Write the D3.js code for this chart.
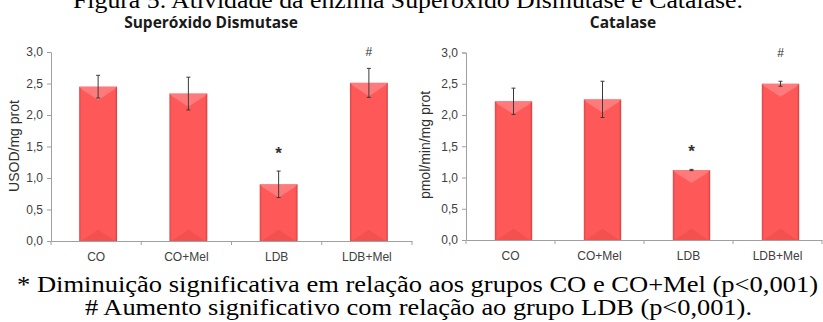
<!DOCTYPE html>
<html>
<head>
<meta charset="utf-8">
<script src="https://cdn.jsdelivr.net/npm/d3@7"></script>
<style>
  html, body { margin: 0; padding: 0; background: #fff; }
  svg { display: block; }
</style>
</head>
<body>
<div id="chart"></div>
<script>
(function () {
  // -- Data ----------------------------------------------------------
  var GROUPS = ["CO", "CO+Mel", "LDB", "LDB+Mel"];
  var SOD_MEAN = [2.45, 2.34, 0.90, 2.51];
  var SOD_ERR  = [0.18, 0.26, 0.21, 0.23];
  var CAT_MEAN = [2.22, 2.25, 1.12, 2.50];
  var CAT_ERR  = [0.21, 0.29, 0.01, 0.04];
  var SOD_MARKS = ["", "", "*", "#"];
  var CAT_MARKS = ["", "", "*", "#"];
  var Y_TICKS = [0, 0.5, 1, 1.5, 2, 2.5, 3];

  var W = 823, H = 322;
  var fmt = function (v) { return v.toFixed(1).replace(".", ","); };

  var svg = d3.select("#chart").append("svg")
    .attr("width", W).attr("height", H);

  var defs = svg.append("defs");
  var grad = defs.append("linearGradient").attr("id", "barGrad")
    .attr("x1", "0").attr("x2", "1").attr("y1", "0").attr("y2", "0");
  grad.append("stop").attr("offset", "0").attr("stop-color", "#d84848");
  grad.append("stop").attr("offset", "0.06").attr("stop-color", "#ff5858");
  grad.append("stop").attr("offset", "0.94").attr("stop-color", "#ff5858");
  grad.append("stop").attr("offset", "1").attr("stop-color", "#cc4040");

  // -- Figure caption (cut at top, as in the source) -----------------
  svg.append("text")
    .attr("x", 73).attr("y", 8)
    .attr("font-family", "'Liberation Serif', 'Times New Roman', serif")
    .attr("font-size", "24px")
    .attr("textLength", 670)
    .attr("lengthAdjust", "spacingAndGlyphs")
    .attr("fill", "#000")
    .text("Figura 5. Atividade da enzima Superóxido Dismutase e Catalase.");

  function panel(opt) {
    var x = d3.scaleBand().domain(GROUPS).range([opt.x0, opt.x1]).padding(0);
    var y = d3.scaleLinear().domain([0, 3]).range([opt.yBottom, opt.yTop]);
    var g = svg.append("g");
    var barW = x.bandwidth() * 0.42;

    // title
    g.append("text")
      .attr("x", opt.titleX).attr("y", 28)
      .attr("text-anchor", "middle")
      .attr("font-family", "'Open Sans', 'Liberation Sans', sans-serif")
      .attr("font-weight", "bold")
      .attr("font-size", "15.5px")
      .attr("fill", "#1a1a1a")
      .text(opt.title);

    // y axis
    var yAxis = d3.axisLeft(y).tickValues(Y_TICKS).tickFormat(fmt)
      .tickSize(4).tickPadding(4);
    var ya = g.append("g").attr("transform", "translate(" + opt.x0 + ",0)").call(yAxis);
    ya.select(".domain").attr("stroke", "#a0a0a0");
    ya.selectAll(".tick line").attr("stroke", "#a0a0a0");
    ya.selectAll(".tick text")
      .attr("font-family", "'Liberation Sans', Arial, sans-serif")
      .attr("font-size", "12px")
      .attr("fill", "#404040");

    // x axis
    var xAxis = d3.axisBottom(x).tickSize(0).tickPadding(11);
    var xa = g.append("g").attr("transform", "translate(0," + opt.yBottom + ")").call(xAxis);
    xa.select(".domain").attr("stroke", "#a0a0a0");
    xa.selectAll(".tick text")
      .attr("font-family", "'Liberation Sans', Arial, sans-serif")
      .attr("font-size", "12px")
      .attr("fill", "#404040");
    // boundary ticks
    g.append("g").selectAll("line")
      .data(GROUPS.concat(["end"]))
      .join("line")
      .attr("x1", function (d, i) { return i < GROUPS.length ? x(d) : opt.x1; })
      .attr("x2", function (d, i) { return i < GROUPS.length ? x(d) : opt.x1; })
      .attr("y1", opt.yBottom).attr("y2", opt.yBottom + 4)
      .attr("stroke", "#a0a0a0");

    // y label
    g.append("text")
      .attr("transform", "translate(" + opt.labelX + "," + opt.labelY + ") rotate(-90)")
      .attr("text-anchor", "middle")
      .attr("font-family", "'Liberation Sans', Arial, sans-serif")
      .attr("font-size", opt.labelSize)
      .attr("fill", "#303030")
      .text(opt.label);

    var cx = function (d) { return x(d) + x.bandwidth() / 2 + opt.shift; };

    // bars
    var bars = g.append("g").selectAll("g")
      .data(GROUPS).join("g");
    bars.append("rect")
      .attr("x", function (d) { return cx(d) - barW / 2; })
      .attr("y", function (d, i) { return y(opt.mean[i]); })
      .attr("width", barW)
      .attr("height", function (d, i) { return opt.yBottom - y(opt.mean[i]); })
      .attr("fill", "url(#barGrad)");
    // top bevel
    bars.append("path")
      .attr("d", function (d, i) {
        var l = cx(d) - barW / 2, r = cx(d) + barW / 2, t = y(opt.mean[i]);
        return "M" + l + "," + t + "L" + r + "," + t + "L" + (r - 3) + "," + (t + 3) +
          "L" + (cx(d)) + "," + (t + barW * 0.35) + "L" + (l + 3) + "," + (t + 3) + "Z";
      })
      .attr("fill", "#ff8585").attr("opacity", 0.75);
    // bottom bevel
    bars.append("path")
      .attr("d", function (d, i) {
        var l = cx(d) - barW / 2, r = cx(d) + barW / 2, b = opt.yBottom;
        return "M" + (l + 2) + "," + b + "L" + cx(d) + "," + (b - barW * 0.3) + "L" + (r - 2) + "," + b + "Z";
      })
      .attr("fill", "#e84848").attr("opacity", 0.5);

    // error bars
    var eb = g.append("g").attr("stroke", "#3a3a3a").attr("stroke-width", 1);
    GROUPS.forEach(function (d, i) {
      var hi = y(opt.mean[i] + opt.err[i]), lo = y(opt.mean[i] - opt.err[i]);
      eb.append("line").attr("x1", cx(d)).attr("x2", cx(d)).attr("y1", hi).attr("y2", lo);
      eb.append("line").attr("x1", cx(d) - 2).attr("x2", cx(d) + 2).attr("y1", hi).attr("y2", hi);
      eb.append("line").attr("x1", cx(d) - 2).attr("x2", cx(d) + 2).attr("y1", lo).attr("y2", lo);
    });

    // significance marks
    g.append("g").selectAll("text")
      .data(GROUPS).join("text")
      .attr("x", function (d) { return cx(d); })
      .attr("y", function (d, i) {
        return opt.marks[i] === "*" ? y(opt.mean[i] + opt.err[i]) - 12 : y(3) + 4;
      })
      .attr("text-anchor", "middle")
      .attr("font-family", "'Liberation Sans', Arial, sans-serif")
      .attr("font-size", function (d, i) { return opt.marks[i] === "*" ? "17px" : "12px"; })
      .attr("font-weight", function (d, i) { return opt.marks[i] === "*" ? "bold" : "normal"; })
      .attr("fill", "#303030")
      .text(function (d, i) { return opt.marks[i]; });
  }

  panel({
    x0: 51, x1: 412, yTop: 52, yBottom: 241, shift: 2,
    mean: SOD_MEAN, err: SOD_ERR, marks: SOD_MARKS,
    title: "Superóxido Dismutase", titleX: 211,
    label: "USOD/mg prot", labelX: 19, labelY: 146, labelSize: "14px"
  });
  panel({
    x0: 466, x1: 822, yTop: 52.5, yBottom: 240, shift: 3,
    mean: CAT_MEAN, err: CAT_ERR, marks: CAT_MARKS,
    title: "Catalase", titleX: 623,
    label: "pmol/min/mg prot", labelX: 430, labelY: 145, labelSize: "14px"
  });

  // -- Footnotes ----------------------------------------------------
  var notes = [
    "* Diminuição significativa em relação aos grupos CO e CO+Mel (p<0,001)",
    "# Aumento significativo com relação ao grupo LDB (p<0,001)."
  ];
  var noteX = [17, 85], noteLen = [801, 667];
  svg.append("g").selectAll("text")
    .data(notes).join("text")
    .attr("x", function (d, i) { return noteX[i]; })
    .attr("y", function (d, i) { return 292 + i * 23; })
    .attr("font-family", "'Liberation Serif', 'Times New Roman', serif")
    .attr("font-size", "23px")
    .attr("textLength", function (d, i) { return noteLen[i]; })
    .attr("lengthAdjust", "spacingAndGlyphs")
    .attr("fill", "#000")
    .text(function (d) { return d; });
})();
</script>
</body>
</html>
